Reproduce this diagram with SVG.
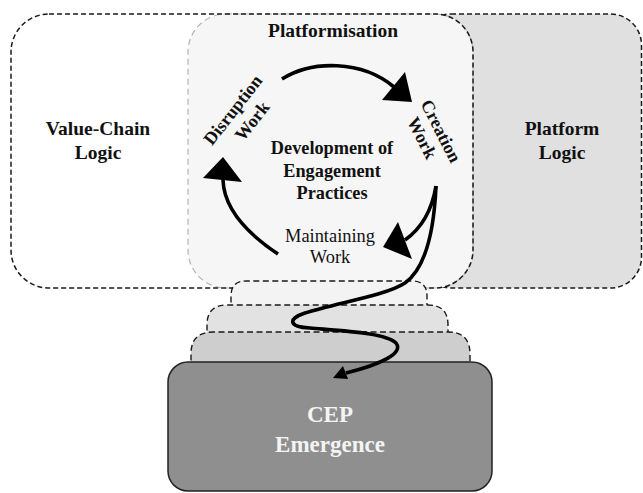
<svg xmlns="http://www.w3.org/2000/svg" width="643" height="493" viewBox="0 0 643 493">
<style>
.dk{fill:none;stroke:#1a1a1a;stroke-width:1.5;stroke-dasharray:5 3}
.lt{stroke:#b4b4b4;stroke-width:1.2;stroke-dasharray:6 4}
.sh{stroke:#1a1a1a;stroke-width:1.4;stroke-dasharray:6 3.5}
.t{font-family:"Liberation Serif","Times New Roman",serif;fill:#111;text-anchor:middle}
.b{font-weight:bold}
.arc{fill:none;stroke:#000;stroke-width:3.6;stroke-linecap:butt}
.head{fill:#000}
</style>
<rect width="643" height="493" fill="#fff"/>
<g id="platform-logic">
<rect x="420" y="14" width="221.5" height="274" rx="31" class="dk" style="fill:#e0e0e0"/>
<text class="t b" x="562" y="135" font-size="19.5">Platform</text>
<text class="t b" x="562" y="159" font-size="19.5">Logic</text>
</g>
<g id="value-chain-logic">
<rect x="11" y="14" width="462" height="274" rx="38" fill="#fff"/>
<text class="t b" x="98" y="135" font-size="19.5">Value-Chain</text>
<text class="t b" x="98" y="159" font-size="19.5">Logic</text>
</g>
<g id="platformisation">
<rect x="188" y="14" width="285" height="274" rx="38" fill="#f6f6f6" class="lt"/>
<rect x="11" y="14" width="462" height="274" rx="38" class="dk"/>
<text class="t b" x="333" y="37" font-size="19.5">Platformisation</text>
</g>
<g id="development">
<text class="t b" x="332" y="154" font-size="18.3">Development of</text>
<text class="t b" x="332" y="177" font-size="18.3">Engagement</text>
<text class="t b" x="332" y="199" font-size="18.3">Practices</text>
</g>
<g id="disruption-work" transform="translate(242.5,115.5) rotate(-52)">
<text class="t b" x="-1.5" y="-5" font-size="18">Disruption</text>
<text class="t b" x="1.5" y="17" font-size="18">Work</text>
</g>
<g id="creation-work" transform="translate(431.5,134.5) rotate(63)">
<text class="t b" x="1.2" y="-4" font-size="18">Creation</text>
<text class="t b" x="-1.2" y="16" font-size="18">Work</text>
</g>
<g id="maintaining-work">
<text class="t" x="330" y="242" font-size="18.4">Maintaining</text>
<text class="t" x="330" y="263" font-size="18.4">Work</text>
</g>
<g id="layers">
<path d="M231,312 V296 Q231,281 246,281 H412 Q427,281 427,296 V312 Z" fill="#f3f3f3" class="sh"/>
<path d="M207,340 V325 Q207,305 227,305 H428 Q448,305 448,325 V340 Z" fill="#e2e2e2" class="sh"/>
<path d="M191,370 V354 Q191,332 213,332 H448 Q470,332 470,354 V370 Z" fill="#cecece" class="sh"/>
</g>
<g id="cep-emergence">
<rect x="168" y="362" width="324" height="129" rx="20" fill="#8f8f8f" stroke="#222" stroke-width="1.5"/>
<text class="t b" x="330" y="422" font-size="23" style="fill:#f4f4f4">CEP</text>
<text class="t b" x="330" y="452" font-size="23" style="fill:#f4f4f4">Emergence</text>
</g>
<g id="connectors">
<path class="arc" d="M282,79 C312,60 362,60 394,87"/>
<polygon class="head" points="382,100 405,72 412,102"/>
<path class="arc" d="M278,254 C248,234 224,210 223,180"/>
<polygon class="head" points="223,157 203,178 242,182"/>
<path class="arc" d="M436,186 C432,210 422,228 405,240"/>
<polygon class="head" points="383,247 398,222 412,259"/>
<path class="arc" d="M436,186 C434,232 426,268 405,283 C385,296 335,303 305,313 C287,319 289,327 310,328 C345,331 386,333 396,343 C404,353 382,364 346,373"/>
<polygon class="head" points="333,378 348,379 343,366"/>
</g>
</svg>
